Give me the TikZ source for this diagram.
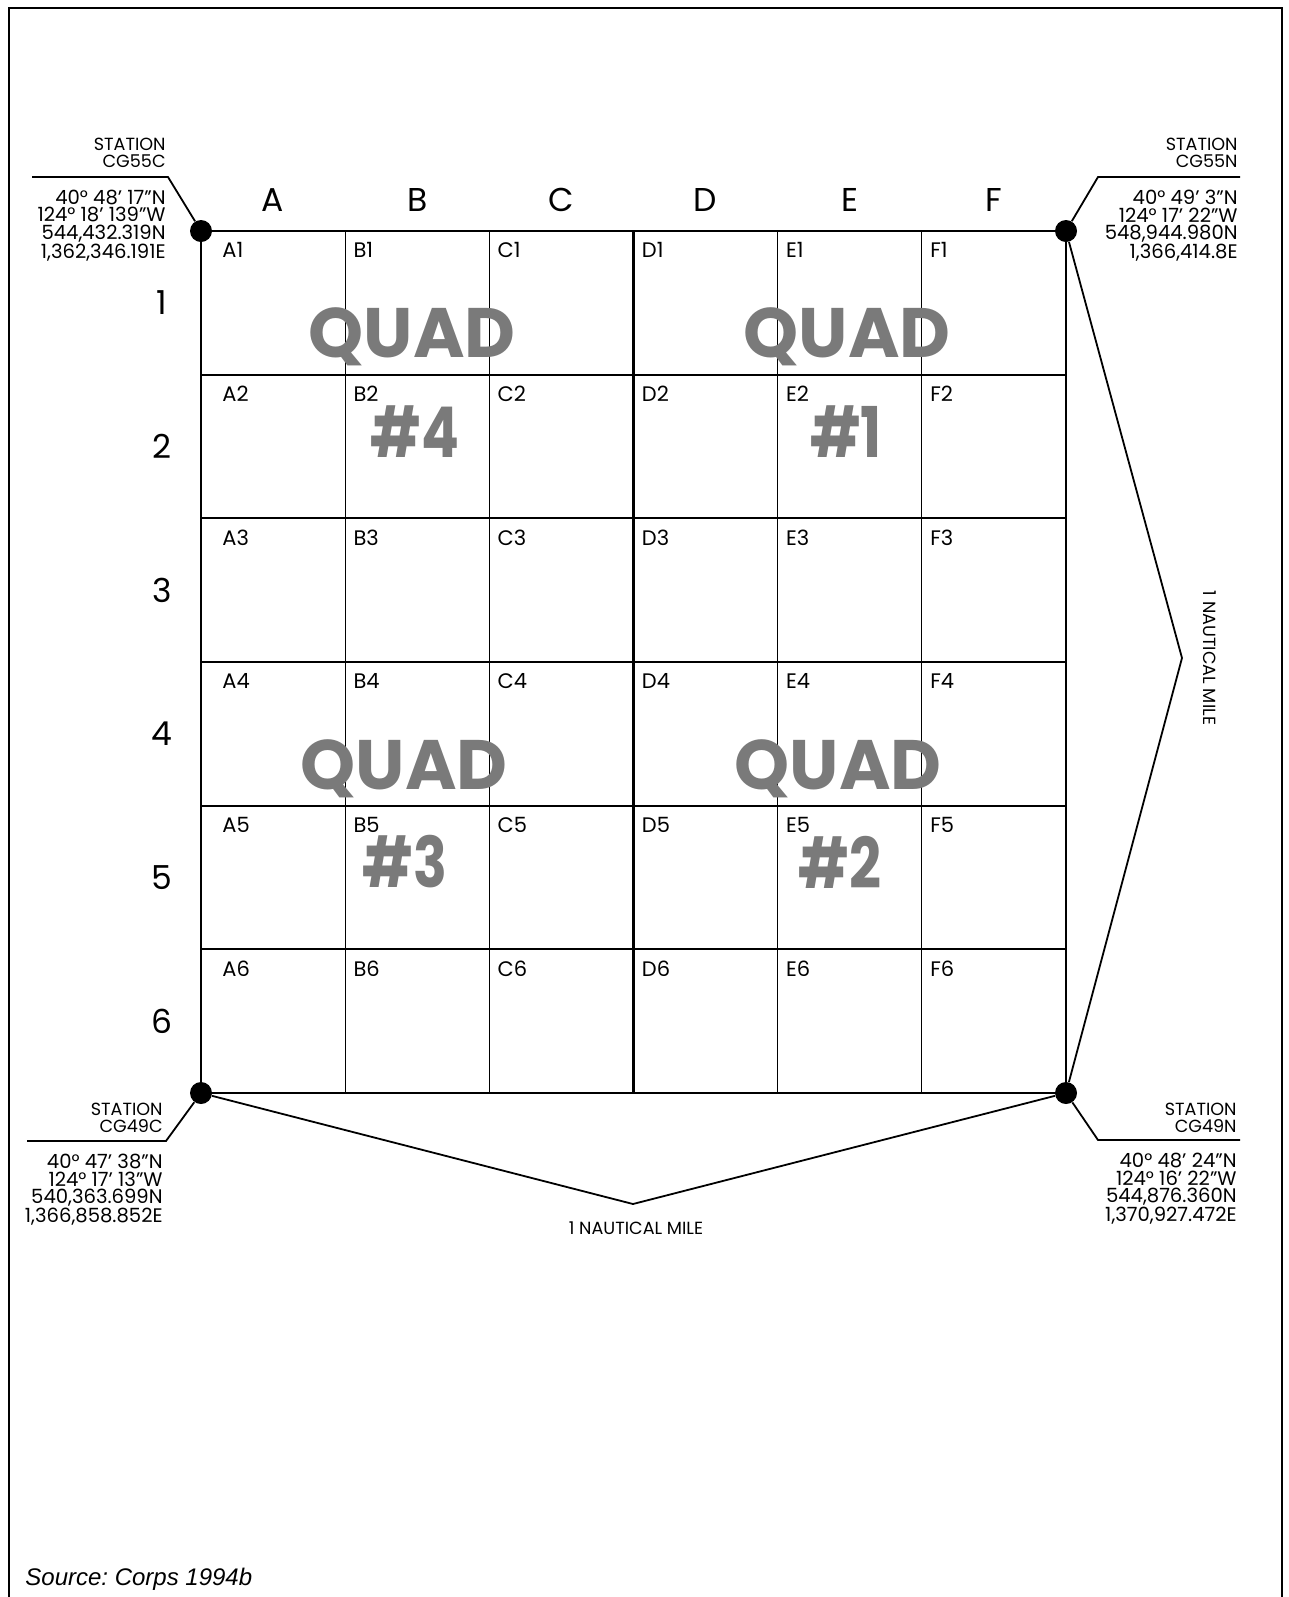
\documentclass[tikz,border=0pt]{standalone}
\usepackage{fontspec}
\usepackage{graphicx}
\setmainfont{Poppins}
\newfontfamily\sourcefont{Liberation Sans}
\usetikzlibrary{calc}

\begin{document}
\begin{tikzpicture}[x=0.5pt, y=-0.5pt, font=\fontsize{8.8}{8.5}\selectfont]

% Styles for the survey grid
\tikzstyle{dot} = [circle, fill=black, inner sep=0pt, minimum size=11pt]
\tikzstyle{cellname} = [anchor=north west, inner sep=0pt, font=\fontsize{10.5}{11}\selectfont]
\tikzstyle{axis} = [inner sep=0pt, font=\fontsize{16.5}{18}\selectfont]
\tikzstyle{quad} = [inner sep=0pt, text=black!52, font=\fontsize{35}{36}\selectfont\bfseries]
\tikzstyle{station} = [anchor=north east, inner sep=0pt, align=right, font=\fontsize{8.8}{8.5}\selectfont]
\tikzstyle{position} = [station, font=\fontsize{9.8}{8.6}\selectfont]
\tikzstyle{leader} = [line width=0.9pt]

% Frame
\useasboundingbox (0,0) rectangle (1289,1597);
\draw[line width=1.3pt] (9,1597) -- (9,8) -- (1282,8) -- (1282,1597);

% Stations at the grid corners
\node[dot] (cg55c) at (201,231) {};
\node[dot] (cg55n) at (1066,231) {};
\node[dot] (cg49c) at (201,1093) {};
\node[dot] (cg49n) at (1066,1093) {};

% Grid lines
\foreach \i in {1,2,4,5} {
  \draw[line width=0.6pt] ({201+\i*144.17},231) -- ++(0,862);
  \draw[line width=0.9pt] (201,{231+\i*143.67}) -- ++(865,0);
}
\draw[line width=1.2pt] (633.5,231) -- (633.5,1093);
\draw[line width=1.2pt] (201,662) -- (1066,662);
\draw[line width=1.3pt] (cg55c.center) rectangle (cg49n.center);

% Column and row headings
\foreach \c [count=\i from 0] in {A,B,C,D,E,F} {
  \node[axis] (col\c) at ({273+\i*144.17},200) {\c};
}
\foreach \r in {1,...,6} {
  \node[axis] (row\r) at (162,{303+(\r-1)*143.67}) {\r};
}

% Cell names
\foreach \c [count=\i from 0] in {A,B,C,D,E,F} {
  \pgfmathsetmacro\off{\i==0 ? 21 : 8}
  \foreach \r in {1,...,6} {
    \node[cellname] (cell\c\r) at ({201+\i*144.17+\off},{231+(\r-1)*143.67+11}) {\c\r};
  }
}

% Quadrant titles
\node[quad] (quadfour) at (412,337) {QUAD};
\node[quad] (numfour) at (415,432) {\scalebox{0.8}[1]{\#4}};
\node[quad] (quadone) at (847,337) {QUAD};
\node[quad] (numone) at (846,432) {\scalebox{0.8}[1]{\#1}};
\node[quad] (quadthree) at (404,769) {QUAD};
\node[quad] (numthree) at (405,862) {\scalebox{0.8}[1]{\#3}};
\node[quad] (quadtwo) at (838,769) {QUAD};
\node[quad] (numtwo) at (840,862) {\scalebox{0.8}[1]{\#2}};

% Station CG55C
\node[station] (cgtlname) at (166,138) {STATION\\CG55C};
\node[position] (cgtlpos) at (166,190) {40° 48' 17"N\\124° 18' 139"W\\544,432.319N\\1,362,346.191E};
\coordinate (tlbend) at (168,177);
\coordinate (tlend) at (32,177);
\draw[leader] (cg55c) -- (tlbend) -- (tlend);

% Station CG55N
\node[station] (cgtrname) at (1238,138) {STATION\\CG55N};
\node[position] (cgtrpos) at (1238,190) {40° 49' 3"N\\124° 17' 22"W\\548,944.980N\\1,366,414.8E};
\coordinate (trbend) at (1098,177);
\coordinate (trend) at (1240,177);
\draw[leader] (cg55n) -- (trbend) -- (trend);

% Station CG49C
\node[station] (cgblname) at (163,1103) {STATION\\CG49C};
\node[position] (cgblpos) at (163,1154) {40° 47' 38"N\\124° 17' 13"W\\540,363.699N\\1,366,858.852E};
\coordinate (blbend) at (166,1141);
\coordinate (blend) at (27,1141);
\draw[leader] (cg49c) -- (blbend) -- (blend);

% Station CG49N
\node[station] (cgbrname) at (1237,1103) {STATION\\CG49N};
\node[position] (cgbrpos) at (1237,1153) {40° 48' 24"N\\124° 16' 22"W\\544,876.360N\\1,370,927.472E};
\coordinate (brbend) at (1098,1140);
\coordinate (brend) at (1240,1140);
\draw[leader] (cg49n) -- (brbend) -- (brend);

% Scale brackets
\coordinate (southapex) at (633,1204);
\draw[leader] (cg49c) -- (southapex) -- (cg49n);
\node (southmile) at (636,1228) {1 NAUTICAL MILE};
\coordinate (eastapex) at (1182,658);
\draw[leader] (cg55n) -- (eastapex) -- (cg49n);
\node[rotate=-90] (eastmile) at (1210,658) {1 NAUTICAL MILE};

% Source
\node[anchor=base west, inner sep=0pt, font=\sourcefont\itshape\fontsize{12}{14}\selectfont] (source) at (25,1585) {\frenchspacing Source: Corps 1994b};

\end{tikzpicture}
\end{document}
